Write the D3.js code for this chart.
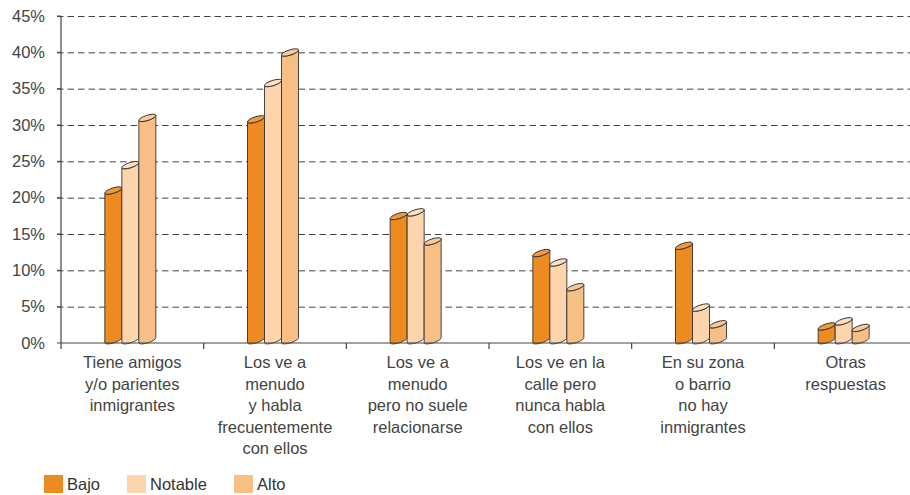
<!DOCTYPE html>
<html><head><meta charset="utf-8">
<script src="https://cdn.jsdelivr.net/npm/d3@7"></script>
<style>
html,body{margin:0;padding:0;background:#fff;}
text{font-family:"Liberation Sans",Arial,sans-serif;}
</style></head>
<body><svg id="c" width="910" height="495"></svg>
<script>
const categories = [
  ["Tiene amigos","y/o parientes","inmigrantes"],
  ["Los ve a","menudo","y habla","frecuentemente","con ellos"],
  ["Los ve a","menudo","pero no suele","relacionarse"],
  ["Los ve en la","calle pero","nunca habla","con ellos"],
  ["En su zona","o barrio","no hay","inmigrantes"],
  ["Otras","respuestas"]
];
const seriesNames = ["Bajo","Notable","Alto"];
const bajo    = [20.6, 30.4, 17.1, 12.0, 13.0, 1.9];
const notable = [24.1, 35.4, 17.6, 10.7, 4.5, 2.6];
const alto    = [30.6, 39.6, 13.6, 7.3, 2.2, 1.7];
const yTicks  = [0,5,10,15,20,25,30,35,40,45];
const colors  = ["#EE8B20","#FDD5AD","#F7BE86"];
const capColors = ["#F09A3A","#FEDFBF","#F9C898"];

const series = [bajo, notable, alto];
const svg = d3.select("#c");
const W = 910;
const x = d3.scaleBand().domain(d3.range(categories.length)).range([61, 917]);
const y = d3.scaleLinear().domain([0,45]).range([343,16]);

// y axis with gridlines
const ya = svg.append("g").attr("transform","translate(61,0)")
  .call(d3.axisLeft(y).tickValues(yTicks).tickFormat(d=>d+"%")
        .tickSizeInner(-(W-61)).tickSizeOuter(0).tickPadding(16));
ya.select(".domain").remove();
ya.selectAll(".tick line")
  .attr("x1",-4)
  .attr("stroke","#444").attr("stroke-width",1)
  .attr("stroke-dasharray","6.5,4")
  .filter(d=>d===0).remove();
ya.selectAll(".tick text").attr("font-size",16.5).attr("fill","#444")
  .attr("font-family","Liberation Sans, Arial, sans-serif");
// y axis line
svg.append("line").attr("x1",61).attr("x2",61).attr("y1",y(45)).attr("y2",349)
  .attr("stroke","#444").attr("stroke-width",1.2);
svg.selectAll(".ytk").data(yTicks).enter().append("line")
  .attr("x1",57).attr("x2",61).attr("y1",d=>y(d)).attr("y2",d=>y(d))
  .attr("stroke","#444");

// bars (oblique cylinders)
const bw = 17, dep = 5.5;
const rx = Math.sqrt(bw*bw+dep*dep)/2, ry = 2.6;
const rot = Math.atan2(-dep,bw)*180/Math.PI;
const gb = svg.append("g");
categories.forEach((c,i)=>{
  const cx = x(i) + x.bandwidth()/2;
  series.forEach((s,j)=>{
    const x0 = cx - 27.5 + j*bw, x1 = x0 + bw;
    const yt = y(s[i]), y0 = y(0);
    const body = `M${x0},${yt} L${x0},${y0} A${rx},${ry} ${rot} 0 0 ${x1},${y0-dep} L${x1},${yt-dep} A${rx},${ry} ${rot} 0 1 ${x0},${yt} Z`;
    gb.append("path").attr("d",body).attr("fill",colors[j])
      .attr("stroke","#333").attr("stroke-width",0.9).attr("stroke-linejoin","round");
    gb.append("ellipse").attr("cx",(x0+x1)/2).attr("cy",yt-dep/2)
      .attr("rx",rx).attr("ry",ry)
      .attr("transform",`rotate(${rot},${(x0+x1)/2},${yt-dep/2})`)
      .attr("fill",capColors[j]).attr("stroke","#333").attr("stroke-width",0.9);
  });
});

// x axis
svg.append("line").attr("x1",61).attr("x2",W).attr("y1",343).attr("y2",343)
  .attr("stroke","#444").attr("stroke-width",1.2);
svg.selectAll(".xtk").data(d3.range(1,categories.length)).enter().append("line")
  .attr("x1",d=>x(d)).attr("x2",d=>x(d)).attr("y1",343).attr("y2",349)
  .attr("stroke","#444").attr("stroke-width",1.2);

// category labels
const gl = svg.append("g");
categories.forEach((lines,i)=>{
  const t = gl.append("text").attr("text-anchor","middle")
    .attr("font-size",16.5).attr("fill","#444");
  lines.forEach((ln,k)=>{
    t.append("tspan").attr("x",x(i)+x.bandwidth()/2).attr("y",368+k*21.5).text(ln);
  });
});

// legend
const legX = [44,127,234];
seriesNames.forEach((n,j)=>{
  svg.append("rect").attr("x",legX[j]).attr("y",475).attr("width",19).attr("height",18)
    .attr("fill",colors[j]);
  svg.append("text").attr("x",legX[j]+23).attr("y",490).attr("font-size",16.5)
    .attr("fill","#333").text(n);
});
</script></body></html>
